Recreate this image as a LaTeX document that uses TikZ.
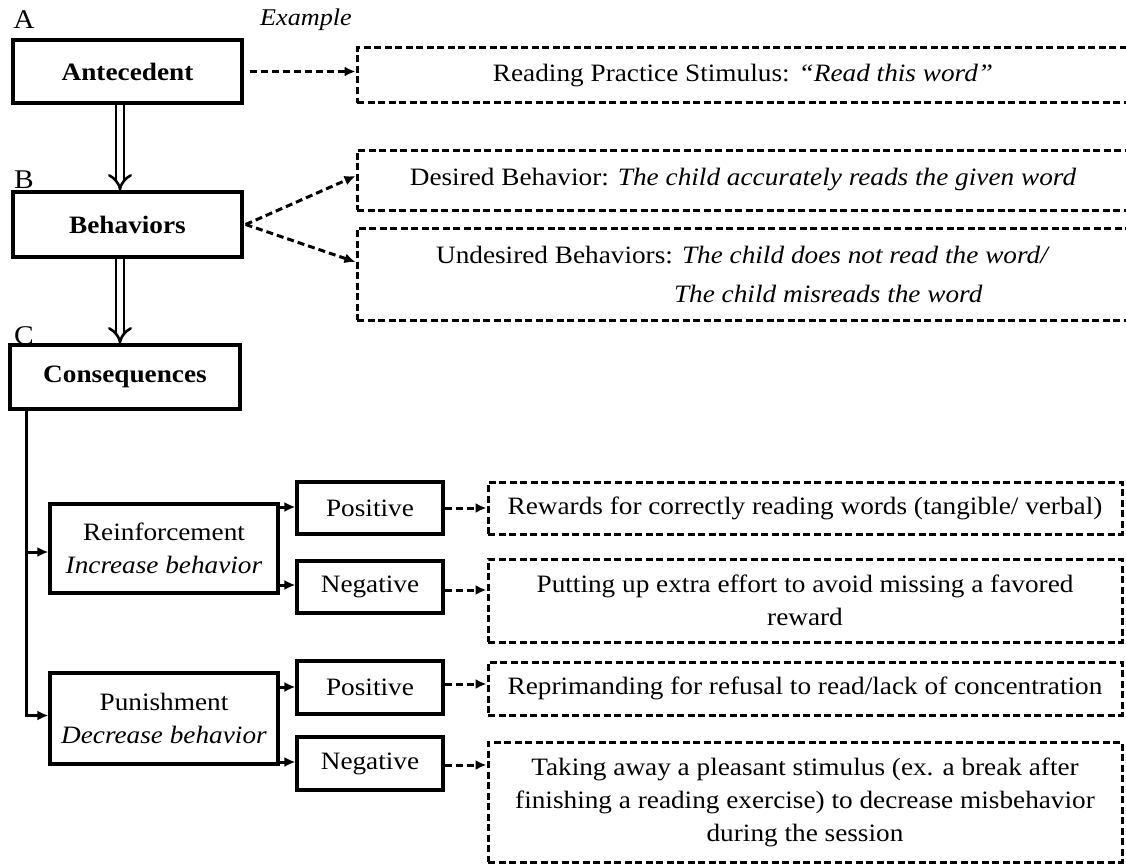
\documentclass[tikz,border=0pt]{standalone}
\usepackage{fontspec}
\setmainfont[FakeStretch=1.09]{Liberation Serif}
\usetikzlibrary{arrows.meta,calc}
\begin{document}
\begin{tikzpicture}[x=1pt,y=-1pt,
  every node/.style={font=\fontsize{25}{33}\selectfont, inner sep=0pt, align=center},
  box/.style={draw, line width=3.2pt, minimum width=#1, anchor=center},
  dbox/.style={draw, line width=3pt, dash pattern=on 7pt off 3.5pt, anchor=center},
  arr/.style={line width=3pt, -{Latex[length=11pt,width=10pt]}},
  darr/.style={line width=3pt, dash pattern=on 7pt off 4pt, -{Latex[length=11pt,width=10pt]}},
  dbl/.style={double, double distance=5.5pt, line width=2.6pt, -{Implies[length=12pt]}},
  lab/.style={font=\fontsize{27}{30}\selectfont},
  bold/.style={font=\fontsize{25}{33}\selectfont\bfseries}]
\useasboundingbox (0,0) rectangle (1126,864);
% labels
\node[lab] (la) at (24,20) {A};
\node[lab] (lb) at (24,180) {B};
\node[lab] (lc) at (24,336) {C};
\node[font=\fontsize{24}{28}\selectfont\itshape] (ex) at (306,20) {Example};
% main boxes
\node[box=229pt, minimum height=63pt, bold] (ante) at (127.5,71.5) {Antecedent};
\node[box=229pt, minimum height=65pt, bold] (beh) at (127.5,224.5) {Behaviors};
\node[box=230pt, minimum height=64pt, bold] (cons) at (125,377) {Consequences};
% example boxes
\node[dbox, minimum width=772pt, minimum height=55pt] (e1) at (743,75.5) {Reading Practice Stimulus: \textit{``Read this word''}};
\node[dbox, minimum width=772pt, minimum height=60pt] (e2) at (743,180) {Desired Behavior: \textit{The child accurately reads the given word}};
\node[dbox, minimum width=772pt, minimum height=92pt, align=left] (e3) at (743,274) {Undesired Behaviors: \textit{The child does not read the word/}\\[6pt]\hspace*{238pt}\textit{The child misreads the word}};
% second level
\node[box=228pt, minimum height=89pt] (rein) at (164,548.5) {Reinforcement\\\textit{Increase behavior}};
\node[box=228pt, minimum height=91pt] (pun) at (164,718.5) {Punishment\\\textit{Decrease behavior}};
\node[box=146pt, minimum height=52pt] (rpos) at (370,508) {Positive};
\node[box=146pt, minimum height=52pt] (rneg) at (370,587) {Negative};
\node[box=146pt, minimum height=53pt] (ppos) at (370,687.5) {Positive};
\node[box=146pt, minimum height=53pt] (pneg) at (370,763.5) {Negative};
% example boxes bottom
\node[dbox, minimum width=634pt, minimum height=52pt] (e4) at (805,508) {Rewards for correctly reading words (tangible/ verbal)};
\node[dbox, minimum width=634pt, minimum height=83pt] (e5) at (805,600.5) {Putting up extra effort to avoid missing a favored\\reward};
\node[dbox, minimum width=634pt, minimum height=53pt] (e6) at (805,688.5) {Reprimanding for refusal to read/lack of concentration};
\node[dbox, minimum width=634pt, minimum height=120pt] (e7) at (805,802) {Taking away a pleasant stimulus (ex. a break after\\finishing a reading exercise) to decrease misbehavior\\during the session};
% connectors
\draw[darr] ($(ante.east)+(6,0)$) -- (e1.west |- ante.east);
\draw[dbl] (ante.south -| 120,0) -- (beh.north -| 120,0);
\draw[dbl] (beh.south -| 120,0) -- (cons.north -| 120,0);
\draw[darr] ($(beh.east)+(2,0)$) -- (e2.west |- 0,176);
\draw[darr] ($(beh.east)+(2,0)$) -- (e3.west |- 0,262);
\coordinate (br) at (26,552);
\draw[arr] (cons.south -| 26,0) |- ($(pun.west)+(0,-3)$);
\draw[arr] (br) -- (rein.west |- br);
\draw[arr] (rein.east |- 0,507) -- (rpos.west |- 0,507);
\draw[arr] (rein.east |- 0,585) -- (rneg.west |- 0,585);
\draw[arr] (pun.east |- 0,687) -- (ppos.west |- 0,687);
\draw[arr] (pun.east |- 0,762) -- (pneg.west |- 0,762);
\draw[darr] (rpos.east) -- (e4.west);
\draw[darr] (rneg.east |- 0,590) -- (e5.west |- 0,590);
\draw[darr] (ppos.east |- 0,684) -- (e6.west |- 0,684);
\draw[darr] (pneg.east |- 0,765) -- (e7.west |- 0,765);
\end{tikzpicture}
\end{document}
